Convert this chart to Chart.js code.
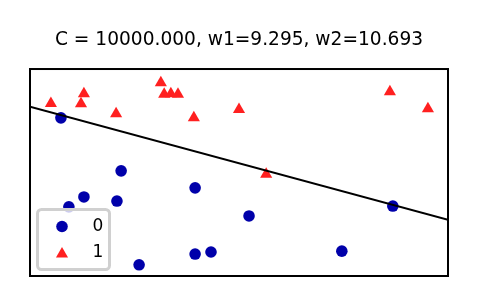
<!DOCTYPE html>
<html>
<head>
<meta charset="utf-8">
<script src="https://cdn.jsdelivr.net/npm/chart.js@4.4.1/dist/chart.umd.min.js"></script>
<style>
  html, body { margin: 0; padding: 0; background: #fff; }
  #wrap { width: 478px; height: 307px; }
</style>
</head>
<body>
<div id="wrap"><canvas id="chart" width="478" height="307"></canvas></div>
<script>
const classNames = ["0", "1"];
const class0X = [0.74, 2.18, 1.29, 2.08, 0.93, 3.95, 2.61, 3.95, 4.33, 5.24, 7.46, 8.68];
const class0Y = [3.82, 2.54, 1.91, 1.81, 1.67, 2.13, 0.27, 0.53, 0.58, 1.45, 0.60, 1.69];
const class1X = [0.50, 1.29, 1.22, 2.06, 3.13, 3.21, 3.37, 3.54, 3.92, 5.00, 5.65, 8.61, 9.52];
const class1Y = [4.17, 4.40, 4.16, 3.92, 4.67, 4.39, 4.40, 4.39, 3.82, 4.02, 2.46, 4.45, 4.04];
const lineX = [0, 10];
const lineY = [4.09, 1.36];
const titleText = "C = 10000.000, w1=9.295, w2=10.693";

const colors = ["#0000aa", "#ff2020"];

function toPoints(xs, ys) {
  return xs.map((x, i) => ({ x: x, y: ys[i] }));
}

// frame around the plot + legend in the lower left
const framePlugin = {
  id: "frame",
  afterDraw(chart) {
    const ctx = chart.ctx;
    const a = chart.chartArea;
    ctx.save();
    ctx.strokeStyle = "#000";
    ctx.lineWidth = 2;
    ctx.strokeRect(a.left, a.top, a.right - a.left, a.bottom - a.top);

    // legend
    const lx = a.left + 7.5, ly = a.bottom - 66.5, lw = 72, lh = 60;
    ctx.beginPath();
    ctx.roundRect(lx, ly, lw, lh, 4);
    ctx.fillStyle = "rgba(255,255,255,0.8)";
    ctx.fill();
    ctx.lineWidth = 3;
    ctx.strokeStyle = "#d0d0d0";
    ctx.stroke();

    const styles = ["circle", "triangle"];
    const radii = [5.8, 7];
    ctx.font = "17px 'DejaVu Sans'";
    ctx.textBaseline = "middle";
    ctx.textAlign = "left";
    classNames.forEach((name, i) => {
      const cy = ly + 17 + i * 26;
      ctx.fillStyle = colors[i];
      ctx.strokeStyle = colors[i];
      Chart.helpers.drawPoint(ctx, { pointStyle: styles[i], radius: radii[i], borderWidth: 0 }, lx + 24.5, cy + (i ? 1.5 : 0));
      ctx.fillStyle = "#000";
      ctx.fillText(name, lx + 55, cy);
    });
    ctx.restore();
  }
};

new Chart(document.getElementById("chart"), {
  type: "scatter",
  data: {
    datasets: [
      {
        type: "line",
        label: "boundary",
        data: toPoints(lineX, lineY),
        borderColor: "#000",
        borderWidth: 2,
        pointRadius: 0,
        fill: false,
        order: 0
      },
      {
        label: classNames[0],
        data: toPoints(class0X, class0Y),
        pointStyle: "circle",
        pointRadius: 5.8,
        backgroundColor: colors[0],
        borderWidth: 0,
        order: 2
      },
      {
        label: classNames[1],
        data: toPoints(class1X, class1Y),
        pointStyle: "triangle",
        pointRadius: 7,
        backgroundColor: colors[1],
        borderWidth: 0,
        order: 1
      }
    ]
  },
  options: {
    responsive: false,
    animation: false,
    layout: { padding: { left: 30, right: 30, top: 0, bottom: 31 } },
    scales: {
      x: { type: "linear", min: 0, max: 10, display: false },
      y: { type: "linear", min: 0, max: 5, display: false }
    },
    plugins: {
      legend: { display: false },
      tooltip: { enabled: false },
      title: {
        display: true,
        text: titleText,
        color: "#000",
        font: { family: "'DejaVu Sans'", size: 18.6, weight: "normal", lineHeight: 1.2 },
        padding: { top: 29.5, bottom: 17.2 }
      }
    }
  },
  plugins: [framePlugin]
});
</script>
</body>
</html>
